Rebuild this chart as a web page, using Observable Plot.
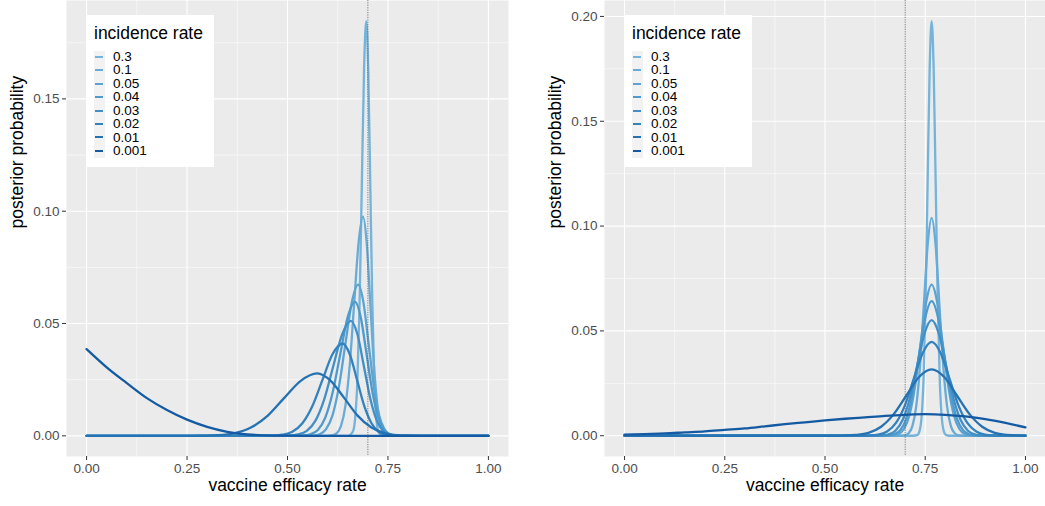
<!DOCTYPE html>
<html><head><meta charset="utf-8">
<script src="https://cdn.jsdelivr.net/npm/d3@7"></script>
<script src="https://cdn.jsdelivr.net/npm/@observablehq/plot@0.6"></script>
<style>
body{margin:0;background:#fff;font-family:"Liberation Sans",Arial,sans-serif;}
#wrap{position:relative;width:1045px;height:506px;overflow:hidden;background:#fff;}
.panel{position:absolute;top:0;}
.legend{position:absolute;background:#fff;width:128px;height:152px;top:15px;}
.legend .title{position:absolute;left:8px;top:10px;font-size:17.5px;line-height:17.5px;color:#000;white-space:nowrap;}
.legend .keys{position:absolute;left:8px;top:36px;width:11px;height:107px;background:#f2f2f2;}
.legend .key{position:absolute;left:9px;width:8px;height:2px;}
.legend .lab{position:absolute;left:27px;font-size:13.5px;line-height:13.5px;color:#000;}
</style></head><body><div id="wrap"></div>
<script>
// incidence rates (legend order) and their colours
const rates = ["0.3", "0.1", "0.05", "0.04", "0.03", "0.02", "0.01", "0.001"];
const colors = ["#74b3da", "#68abd6", "#5ca3d1", "#4f9acc", "#418fc6", "#3382be", "#2572b3", "#145aa3"];

// axis ticks
const xTicks = [0, 0.25, 0.5, 0.75, 1];
const xMinor = [0.125, 0.375, 0.625, 0.875];
const leftYTicks = [0, 0.05, 0.1, 0.15];
const leftYMinor = [0.025, 0.075, 0.125, 0.175];
const rightYTicks = [0, 0.05, 0.1, 0.15, 0.2];
const rightYMinor = [0.025, 0.075, 0.125, 0.175];
const refEfficacy = [0.7];

// left panel: [vaccine efficacy rate, posterior probability]
const left_0_3 = [[0,0],[0.650,0],[0.663,0.0020],[0.6685,0.0081],[0.674,0.0250],[0.6795,0.0599],[0.685,0.1120],[0.6905,0.1629],[0.696,0.1846],[0.701,0.1629],[0.706,0.1120],[0.711,0.0599],[0.716,0.0250],[0.721,0.0081],[0.726,0.0020],[0.735,0],[1,0]];
const left_0_1 = [[0,0],[0.60,0],[0.611,0.0002],[0.622,0.0011],[0.633,0.0043],[0.644,0.0132],[0.655,0.0317],[0.666,0.0592],[0.677,0.0861],[0.688,0.0976],[0.697,0.0861],[0.706,0.0592],[0.715,0.0317],[0.724,0.0132],[0.733,0.0043],[0.742,0.0011],[0.751,0.0002],[0.765,0],[1,0]];
const left_0_05 = [[0,0],[0.55,0],[0.564,0.0001],[0.580,0.0007],[0.596,0.0030],[0.612,0.0091],[0.628,0.0219],[0.644,0.0408],[0.660,0.0594],[0.676,0.0673],[0.689,0.0594],[0.702,0.0408],[0.715,0.0219],[0.728,0.0091],[0.741,0.0030],[0.754,0.0007],[0.767,0.0001],[0.78,0],[1,0]];
const left_0_04 = [[0,0],[0.52,0],[0.5385,0.0001],[0.557,0.0007],[0.5755,0.0026],[0.594,0.0081],[0.6125,0.0194],[0.631,0.0361],[0.6495,0.0526],[0.668,0.0596],[0.6825,0.0526],[0.697,0.0361],[0.7115,0.0194],[0.726,0.0081],[0.7405,0.0026],[0.755,0.0007],[0.7695,0.0001],[0.785,0],[1,0]];
const left_0_03 = [[0,0],[0.48,0],[0.504,0.0001],[0.526,0.0006],[0.548,0.0022],[0.570,0.0069],[0.592,0.0166],[0.614,0.0311],[0.636,0.0452],[0.658,0.0512],[0.674,0.0452],[0.690,0.0311],[0.706,0.0166],[0.722,0.0069],[0.738,0.0022],[0.754,0.0006],[0.770,0.0001],[0.785,0],[1,0]];
const left_0_02 = [[0,0],[0.44,0],[0.462,0.0001],[0.487,0.0005],[0.512,0.0018],[0.537,0.0056],[0.562,0.0133],[0.587,0.0249],[0.612,0.0363],[0.637,0.0411],[0.655,0.0363],[0.673,0.0249],[0.691,0.0133],[0.709,0.0056],[0.727,0.0018],[0.745,0.0005],[0.763,0.0001],[0.78,0],[1,0]];
const left_0_01 = [[0,0],[0.25,0],[0.287,0.0001],[0.328,0.0003],[0.369,0.0012],[0.410,0.0038],[0.451,0.0090],[0.492,0.0169],[0.533,0.0245],[0.574,0.0278],[0.6075,0.0245],[0.641,0.0169],[0.6745,0.0090],[0.708,0.0038],[0.7415,0.0012],[0.775,0.0003],[0.8085,0.0001],[0.83,0],[1,0]];
const left_0_001 = [[0,0.0386],[0.05,0.0305],[0.10,0.0235],[0.15,0.0168],[0.20,0.0115],[0.25,0.0072],[0.30,0.0040],[0.35,0.0018],[0.40,0.0006],[0.45,0.0002],[0.50,0.00005],[0.55,0],[1,0]];

// right panel
const right_0_3 = [[0,0],[0.72,0],[0.7307,0.0004],[0.7357,0.0022],[0.7408,0.0087],[0.7458,0.0267],[0.7509,0.0642],[0.7559,0.1199],[0.7610,0.1745],[0.766,0.1977],[0.7711,0.1745],[0.7761,0.1199],[0.7812,0.0642],[0.7862,0.0267],[0.7913,0.0087],[0.7963,0.0022],[0.8014,0.0004],[0.81,0],[1,0]];
const right_0_1 = [[0,0],[0.685,0],[0.6988,0.0002],[0.7084,0.0012],[0.718,0.0046],[0.7276,0.0141],[0.7372,0.0337],[0.7468,0.0630],[0.7564,0.0917],[0.766,0.1039],[0.7756,0.0917],[0.7852,0.0630],[0.7948,0.0337],[0.8044,0.0141],[0.814,0.0046],[0.8236,0.0012],[0.8332,0.0002],[0.845,0],[1,0]];
const right_0_05 = [[0,0],[0.65,0],[0.6691,0.0002],[0.6829,0.0008],[0.6968,0.0032],[0.7106,0.0098],[0.7245,0.0234],[0.7383,0.0437],[0.7522,0.0636],[0.766,0.0721],[0.7799,0.0636],[0.7937,0.0437],[0.8076,0.0234],[0.8214,0.0098],[0.8353,0.0032],[0.8491,0.0008],[0.8630,0.0002],[0.88,0],[1,0]];
const right_0_04 = [[0,0],[0.64,0],[0.6572,0.0001],[0.6727,0.0007],[0.6883,0.0028],[0.7038,0.0087],[0.7194,0.0208],[0.7349,0.0389],[0.7505,0.0567],[0.766,0.0642],[0.7816,0.0567],[0.7971,0.0389],[0.8127,0.0208],[0.8282,0.0087],[0.8438,0.0028],[0.8593,0.0007],[0.8749,0.0001],[0.89,0],[1,0]];
const right_0_03 = [[0,0],[0.62,0],[0.6393,0.0001],[0.6574,0.0006],[0.6755,0.0024],[0.6936,0.0075],[0.7117,0.0179],[0.7298,0.0334],[0.7479,0.0486],[0.766,0.0551],[0.7841,0.0486],[0.8022,0.0334],[0.8203,0.0179],[0.8384,0.0075],[0.8565,0.0024],[0.8746,0.0006],[0.8927,0.0001],[0.91,0],[1,0]];
const right_0_02 = [[0,0],[0.59,0],[0.6103,0.0001],[0.6325,0.0005],[0.6548,0.0020],[0.677,0.0061],[0.6993,0.0145],[0.7215,0.0272],[0.7438,0.0395],[0.766,0.0448],[0.7883,0.0395],[0.8105,0.0272],[0.8328,0.0145],[0.855,0.0061],[0.8773,0.0020],[0.8995,0.0005],[0.9218,0.0001],[0.94,0],[1,0]];
const right_0_01 = [[0,0],[0.52,0],[0.5455,0.0001],[0.577,0.0004],[0.6085,0.0014],[0.64,0.0043],[0.6715,0.0103],[0.703,0.0192],[0.7345,0.0280],[0.766,0.0317],[0.7975,0.0280],[0.829,0.0192],[0.8605,0.0103],[0.892,0.0043],[0.9235,0.0014],[0.955,0.0004],[0.9865,0.0001],[1,0]];
const right_0_001 = [[0,0.0005],[0.05,0.0008],[0.10,0.0011],[0.15,0.0016],[0.20,0.0021],[0.25,0.0028],[0.30,0.0035],[0.35,0.0045],[0.40,0.0055],[0.45,0.0064],[0.50,0.0073],[0.55,0.0081],[0.60,0.0088],[0.65,0.0095],[0.70,0.0100],[0.75,0.0103],[0.80,0.0100],[0.85,0.0092],[0.90,0.0079],[0.95,0.0061],[1.0,0.0040]];

const leftSeries = [left_0_3, left_0_1, left_0_05, left_0_04, left_0_03, left_0_02, left_0_01, left_0_001];
const rightSeries = [right_0_3, right_0_1, right_0_05, right_0_04, right_0_03, right_0_02, right_0_01, right_0_001];

function toTable(series) {
  const rows = [];
  series.forEach((s, i) => s.forEach(([x, y]) => rows.push({rate: rates[i], x, y})));
  return rows;
}

const fmt = d3.format(".2f");
const FONT = '"Liberation Sans", Arial, sans-serif';

function makePanel(series, yDomain, yTicks, yMinor, width, marginLeft, marginRight) {
  return Plot.plot({
    width, height: 506,
    marginTop: 0, marginBottom: 50, marginLeft, marginRight,
    style: {fontFamily: FONT, fontSize: "13.5px", background: "transparent", overflow: "visible"},
    x: {domain: [-0.05, 1.05]},
    y: {domain: yDomain},
    color: {domain: rates, range: colors},
    marks: [
      Plot.frame({fill: "#ebebeb", stroke: "none"}),
      Plot.gridX(xMinor, {stroke: "white", strokeOpacity: 1, strokeWidth: 0.55}),
      Plot.gridY(yMinor, {stroke: "white", strokeOpacity: 1, strokeWidth: 0.55}),
      Plot.gridX(xTicks, {stroke: "white", strokeOpacity: 1, strokeWidth: 1.1}),
      Plot.gridY(yTicks, {stroke: "white", strokeOpacity: 1, strokeWidth: 1.1}),
      Plot.line(toTable(series), {x: "x", y: "y", z: "rate", stroke: "rate", strokeWidth: 2.3, curve: "monotone-x"}),
      Plot.ruleX(refEfficacy, {stroke: "#555", strokeWidth: 0.75, strokeDasharray: "1.2,1.2"}),
      Plot.axisX(xTicks, {tickFormat: fmt, tickSize: 4, tickPadding: 3, label: null, stroke: "#333", fill: "#4d4d4d"}),
      Plot.axisY(yTicks, {tickFormat: fmt, tickSize: 4, tickPadding: 3, label: null, stroke: "#333", fill: "#4d4d4d"}),
      Plot.text(["vaccine efficacy rate"], {frameAnchor: "bottom", dy: 34, text: d => d, fontSize: 17.5, fill: "black"}),
      Plot.text(["posterior probability"], {frameAnchor: "left", dx: -49, rotate: -90, text: d => d, fontSize: 17.5, fill: "black"})
    ]
  });
}

const wrap = document.getElementById("wrap");

const leftPlot = makePanel(leftSeries, [-0.0092, 0.1938], leftYTicks, leftYMinor, 520, 66, 12);
leftPlot.classList.add("panel");
leftPlot.style.left = "0px";
wrap.appendChild(leftPlot);

const rightPlot = makePanel(rightSeries, [-0.0099, 0.2076], rightYTicks, rightYMinor, 525, 84, 0);
rightPlot.classList.add("panel");
rightPlot.style.left = "520px";
wrap.appendChild(rightPlot);

function makeLegend(left) {
  const box = document.createElement("div");
  box.className = "legend";
  box.style.left = left + "px";
  const t = document.createElement("div");
  t.className = "title";
  t.textContent = "incidence rate";
  box.appendChild(t);
  const keys = document.createElement("div");
  keys.className = "keys";
  box.appendChild(keys);
  rates.forEach((r, i) => {
    const cy = 41.7 + 13.45 * i;
    const k = document.createElement("div");
    k.className = "key";
    k.style.top = Math.round(cy - 1) + "px";
    k.style.background = colors[i];
    box.appendChild(k);
    const l = document.createElement("div");
    l.className = "lab";
    l.style.top = Math.round(cy - 6.75) + "px";
    l.textContent = r;
    box.appendChild(l);
  });
  wrap.appendChild(box);
}
makeLegend(86);
makeLegend(624);
</script>
</body></html>
